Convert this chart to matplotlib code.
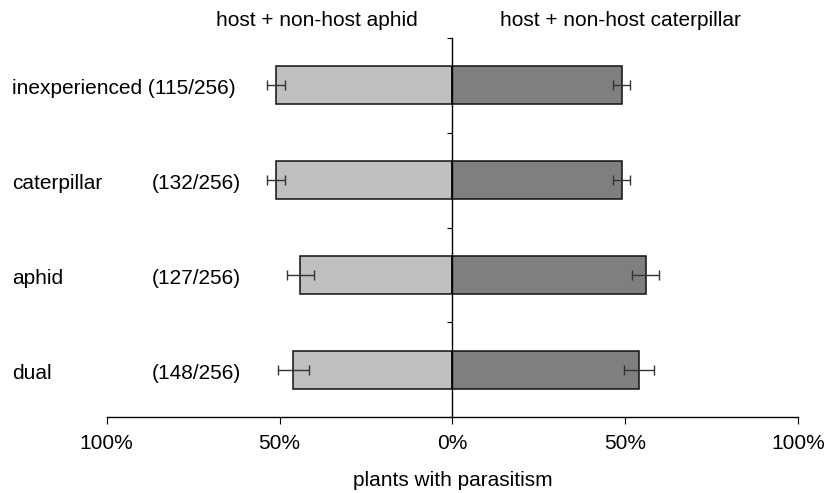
import matplotlib
matplotlib.use("Agg")
import matplotlib.pyplot as plt
import matplotlib.transforms as mtransforms

plt.rcParams['font.family'] = ['Liberation Sans', 'DejaVu Sans']

# Experience groups, top to bottom
groups = ["inexperienced", "caterpillar", "aphid", "dual"]
counts = ["(115/256)", "(132/256)", "(127/256)", "(148/256)"]

# Percentage of plants with parasitism per plant set
aphid_pct = [51.0, 51.0, 44.0, 46.0]
aphid_err = [2.5, 2.5, 3.9, 4.5]
cater_pct = [49.0, 49.0, 56.0, 54.0]
cater_err = [2.5, 2.5, 3.9, 4.4]

x_ticks = [-100, -50, 0, 50, 100]
x_tick_labels = ["100%", "50%", "0%", "50%", "100%"]

W, H = 828, 493
fig = plt.figure(figsize=(W / 100, H / 100), dpi=100)
left_px, right_px, top_px, bot_px = 106.7, 798.0, 38.0, 417.0
ax = fig.add_axes([left_px / W, (H - bot_px) / H,
                   (right_px - left_px) / W, (bot_px - top_px) / H])

n = len(groups)
ypos = [n - 0.5 - i for i in range(n)]

ax.barh(ypos, [-v for v in aphid_pct], height=0.4, left=0,
        color='#BFBFBF', edgecolor='#111111', linewidth=1.1, zorder=2)
ax.barh(ypos, cater_pct, height=0.4, left=0,
        color='#7F7F7F', edgecolor='#111111', linewidth=1.1, zorder=2)

ax.errorbar([-v for v in aphid_pct], ypos, xerr=aphid_err, fmt='none',
            ecolor='#333333', elinewidth=1.0, capsize=3.5, capthick=1.0, zorder=3)
ax.errorbar(cater_pct, ypos, xerr=cater_err, fmt='none',
            ecolor='#333333', elinewidth=1.0, capsize=3.5, capthick=1.0, zorder=3)

ax.set_xlim(-100, 100)
ax.set_ylim(0, n)

for s in ['top', 'right']:
    ax.spines[s].set_visible(False)
ax.spines['left'].set_position(('data', 0))
ax.spines['left'].set_zorder(4)
ax.spines['left'].set_linewidth(1.0)
ax.spines['bottom'].set_linewidth(1.0)

ax.set_yticks(range(n + 1))
ax.set_yticklabels([])
ax.tick_params(axis='y', length=3.5, width=0.8, direction='out')

ax.set_xticks(x_ticks)
ax.set_xticklabels(x_tick_labels, fontsize=15)
ax.tick_params(axis='x', length=5, width=0.8, pad=7)

# Row labels at the left margin
trans = mtransforms.blended_transform_factory(fig.transFigure, ax.transData)
for i, (g, c) in enumerate(zip(groups, counts)):
    yb = ypos[i] - 0.095
    if i == 0:
        ax.text(12 / W, yb, f"{g} {c}", transform=trans, ha='left',
                va='baseline', fontsize=15)
    else:
        ax.text(12 / W, yb, g, transform=trans, ha='left',
                va='baseline', fontsize=15)
        ax.text(152 / W, yb, c, transform=trans, ha='left',
                va='baseline', fontsize=15)

fig.text(317 / W, (H - 26) / H, "host + non-host aphid", ha='center',
         va='baseline', fontsize=15)
fig.text(620 / W, (H - 26) / H, "host + non-host caterpillar", ha='center',
         va='baseline', fontsize=15)
fig.text(453 / W, (H - 485.7) / H, "plants with parasitism", ha='center',
         va='baseline', fontsize=15)

fig.savefig("out.png", dpi=100)
